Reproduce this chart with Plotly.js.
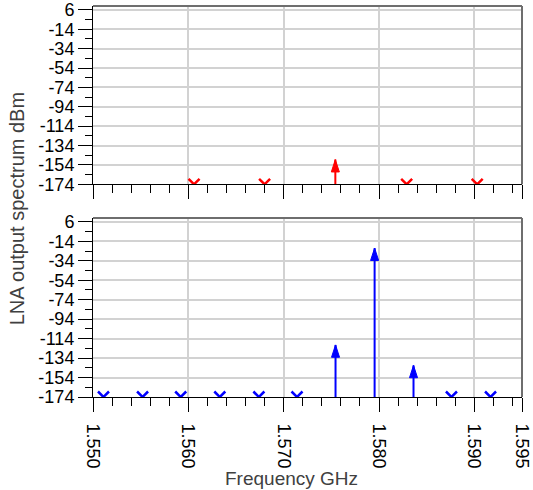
<!DOCTYPE html>
<html><head><meta charset="utf-8">
<script src="https://cdn.plot.ly/plotly-3.0.1.min.js"></script>
<style>html,body{margin:0;padding:0;background:#fff;} #chart{width:533px;height:490px;}</style>
</head><body><div id="chart"></div>
<script>
// ---- data ----
const xTickVals = [1.550, 1.560, 1.570, 1.580, 1.590, 1.595];
const xTickText = ["1.550", "1.560", "1.570", "1.580", "1.590", "1.595"];
const yTickVals = [6, -14, -34, -54, -74, -94, -114, -134, -154, -174];
const yTickText = ["6", "-14", "-34", "-54", "-74", "-94", "-114", "-134", "-154", "-174"];
const floorLevel = -174;   // bottom of the display range (dBm)
const topLevel = 10;       // top of the display range (dBm)

// upper panel (red)
const topToneFreq = [1.57542];
const topToneLevel = [-148.5];
const topBelowFloorFreq = [1.5606, 1.5680, 1.5829, 1.5903];

// lower panel (blue)
const botToneFreq = [1.57544, 1.57954, 1.58362];
const botToneLevel = [-120.5, -21, -141.5];
const botBelowFloorFreq = [1.5511, 1.5552, 1.5592, 1.5633, 1.5674, 1.5714, 1.5876, 1.5917];

// ---- build traces ----
function stems(freqs, levels) {
  const x = [], y = [];
  freqs.forEach((f, i) => { x.push(f, f, null); y.push(floorLevel, levels[i], null); });
  return {x, y};
}
const FONT = 'Liberation Sans, Arial, sans-serif';
const RED = '#ff0000', BLUE = '#0000ff';

function panelTraces(toneF, toneL, belowF, color, xa, ya) {
  const s = stems(toneF, toneL);
  return [
    {x: s.x, y: s.y, xaxis: xa, yaxis: ya, type: 'scatter', mode: 'lines',
     line: {color: color, width: 2}, hoverinfo: 'skip', showlegend: false},
    {x: toneF, y: toneL, xaxis: xa, yaxis: ya, type: 'scatter', mode: 'markers',
     marker: {symbol: 'arrow', size: 13, color: color, line: {color: color, width: 1}}, showlegend: false},
    {x: belowF, y: belowF.map(() => floorLevel), xaxis: xa, yaxis: ya, type: 'scatter', mode: 'markers',
     cliponaxis: true,
     marker: {symbol: 'x-thin-open', size: 11, color: color, line: {color: color, width: 2.5}}, showlegend: false}
  ];
}

const data = [].concat(
  panelTraces(topToneFreq, topToneLevel, topBelowFloorFreq, RED, 'x', 'y'),
  panelTraces(botToneFreq, botToneLevel, botBelowFloorFreq, BLUE, 'x2', 'y2')
);

function xAxis(anchor, labels) {
  return {
    anchor: anchor, domain: [0, 1], range: [1.550, 1.595],
    tickmode: 'array', tickvals: xTickVals, ticktext: xTickText,
    showticklabels: labels, tickangle: 90, ticklabelstandoff: 8,
    tickfont: {family: FONT, size: 18, color: '#000'},
    ticks: 'outside', ticklen: 14, tickwidth: 1, tickcolor: '#000',
    showline: true, linecolor: '#000', linewidth: 1,
    showgrid: true, gridcolor: '#d2d2d2', gridwidth: 2, zeroline: false,
    minor: {tickmode: 'linear', tick0: 1.550, dtick: 0.002, ticks: 'outside', ticklen: 8,
            tickwidth: 1, tickcolor: '#000', showgrid: false}
  };
}
function yAxis(anchor, domain) {
  return {
    anchor: anchor, domain: domain, range: [floorLevel, topLevel],
    tickmode: 'array', tickvals: yTickVals, ticktext: yTickText,
    tickfont: {family: FONT, size: 18, color: '#000'},
    ticks: 'outside', ticklen: 14, tickwidth: 1, tickcolor: '#000',
    showline: true, linecolor: '#000', linewidth: 1,
    showgrid: true, gridcolor: '#d2d2d2', gridwidth: 2, zeroline: false,
    minor: {tickmode: 'linear', tick0: -4, dtick: 20, ticks: 'outside', ticklen: 7,
            tickwidth: 1, tickcolor: '#000', showgrid: false}
  };
}
function border(xa, ya) {
  const ln = {color: '#6e6e6e', width: 2};
  return [
    {type: 'line', xref: xa + ' domain', yref: ya + ' domain', x0: 0, x1: 1, y0: 1, y1: 1, line: ln},
    {type: 'line', xref: xa + ' domain', yref: ya + ' domain', x0: 1, x1: 1, y0: 0, y1: 1, line: ln}
  ];
}

const layout = {
  width: 533, height: 490,
  margin: {l: 93, r: 11, t: 6, b: 93},
  paper_bgcolor: '#fff', plot_bgcolor: '#fff',
  font: {family: FONT, size: 18, color: '#000'},
  showlegend: false,
  xaxis: xAxis('y', false),
  yaxis: yAxis('x', [0.544, 1]),
  xaxis2: xAxis('y2', true),
  yaxis2: yAxis('x2', [0, 0.458]),
  shapes: [].concat(border('x', 'y'), border('x2', 'y2')),
  annotations: [
    {text: 'LNA output spectrum dBm', xref: 'paper', yref: 'paper', x: -0.1764, y: 0.4808,
     xanchor: 'center', yanchor: 'middle', textangle: -90, showarrow: false,
     font: {family: FONT, size: 20, color: '#404040'}},
    {text: 'Frequency GHz', xref: 'paper', yref: 'paper', x: 0.4617, y: -0.2072,
     xanchor: 'center', yanchor: 'middle', showarrow: false,
     font: {family: FONT, size: 19, color: '#404040'}}
  ]
};

Plotly.newPlot('chart', data, layout, {staticPlot: true, displayModeBar: false});
</script>
</body></html>
